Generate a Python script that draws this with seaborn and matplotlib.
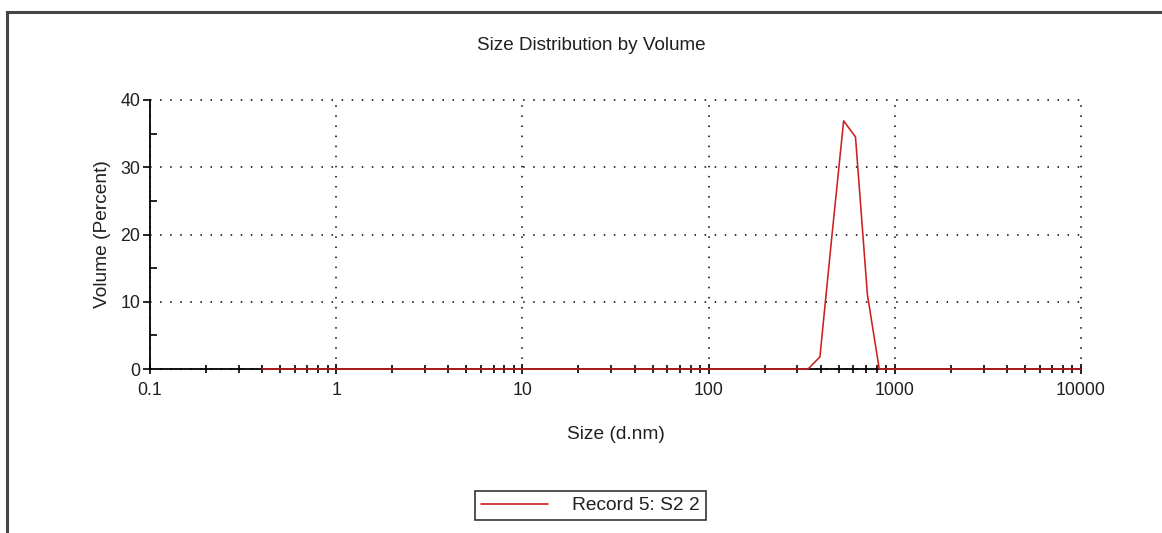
import matplotlib
matplotlib.use("Agg")
import matplotlib.pyplot as plt
import matplotlib.patches as mpatches
from matplotlib.ticker import LogLocator, FixedLocator, NullFormatter, FixedFormatter
import seaborn as sns
import pandas as pd

# ---- data ----
size_nm = [0.4, 342.0, 396.1, 458.7, 531.2, 615.1, 712.4, 825.0, 10000.0]
volume_pct = [0.0, 0.0, 1.8, 19.6, 36.9, 34.5, 11.1, 0.0, 0.0]
series_name = "Record 5: S2 2"

x_ticks = [0.1, 1, 10, 100, 1000, 10000]
x_tick_labels = ["0.1", "1", "10", "100", "1000", "10000"]
y_ticks = [0, 10, 20, 30, 40]
y_minor_ticks = [5, 15, 25, 35]

title = "Size Distribution by Volume"
x_label = "Size (d.nm)"
y_label = "Volume (Percent)"

df = pd.DataFrame({"size": size_nm, "volume": volume_pct, "record": series_name})

sns.set_style("white")
plt.rcParams["font.family"] = ["Liberation Sans", "DejaVu Sans"]

W, H = 1162, 533
fig = plt.figure(figsize=(W / 100, H / 100), dpi=100)
ax = fig.add_axes([150 / W, 1 - 369 / H, (1081 - 150) / W, (369 - 100) / H])

red = "#cc1f1f"
sns.lineplot(data=df, x="size", y="volume", hue="record", palette=[red],
             ax=ax, linewidth=1.15, legend=False, sort=False,
             clip_on=False, zorder=4)

ax.set_xscale("log")
ax.set_xlim(0.1, 10000)
ax.set_ylim(0, 40)

ax.xaxis.set_major_locator(FixedLocator(x_ticks))
ax.xaxis.set_major_formatter(FixedFormatter(x_tick_labels))
ax.xaxis.set_minor_locator(LogLocator(base=10, subs=[2, 3, 4, 5, 6, 7, 8, 9], numticks=20))
ax.xaxis.set_minor_formatter(NullFormatter())
ax.yaxis.set_major_locator(FixedLocator(y_ticks))
ax.yaxis.set_minor_locator(FixedLocator(y_minor_ticks))

fs_tick = 12.8
fs_lab = 13.8
ax.tick_params(axis="x", which="major", direction="inout", length=7, width=1.2,
               color="black", labelsize=fs_tick, labelcolor="#202020", pad=6, bottom=True)
ax.tick_params(axis="x", which="minor", direction="inout", length=6, width=1.2,
               color="black", bottom=True)
ax.tick_params(axis="y", which="major", direction="out", length=5, width=1.2,
               color="black", labelsize=fs_tick, labelcolor="#202020", pad=2, left=True)
ax.tick_params(axis="y", which="minor", direction="in", length=5, width=1.2,
               color="black", left=True)

for side in ["top", "right"]:
    ax.spines[side].set_visible(False)
for side in ["left", "bottom"]:
    ax.spines[side].set_color("black")
    ax.spines[side].set_linewidth(1.3)

ax.grid(True, which="major", axis="both", color="black", linewidth=1.1,
        linestyle=(0, (1, 5.6)))
ax.set_axisbelow(True)
for g in ax.get_xgridlines() + ax.get_ygridlines():
    g.set_clip_on(False)

ax.set_xlabel(x_label, fontsize=fs_lab, color="#202020", labelpad=19.5)
ax.set_ylabel(y_label, fontsize=fs_lab, color="#202020", labelpad=7)

fig.text(591 / W, 1 - 46 / H, title, ha="center", va="center", fontsize=13.6, color="#202020")

leg_line = plt.Line2D([], [], color=red, linewidth=1.2)
leg = fig.legend([leg_line], [series_name], loc="center", bbox_to_anchor=(590.5 / W, 1 - 505.5 / H),
                 fontsize=fs_lab, frameon=True, fancybox=False, handlelength=3.5,
                 handletextpad=1.25, borderpad=0.3, borderaxespad=0)
leg.get_frame().set_edgecolor("black")
leg.get_frame().set_linewidth(1.2)
for t in leg.get_texts():
    t.set_color("#202020")

# outer window border (top and left visible)
fig.add_artist(mpatches.Rectangle((7 / W, -0.2), 1.5, 1.2 - 11.5 / H, transform=fig.transFigure,
                                  fill=False, edgecolor="#454545", linewidth=2.2))

fig.savefig("out.png", dpi=100, facecolor="white")
